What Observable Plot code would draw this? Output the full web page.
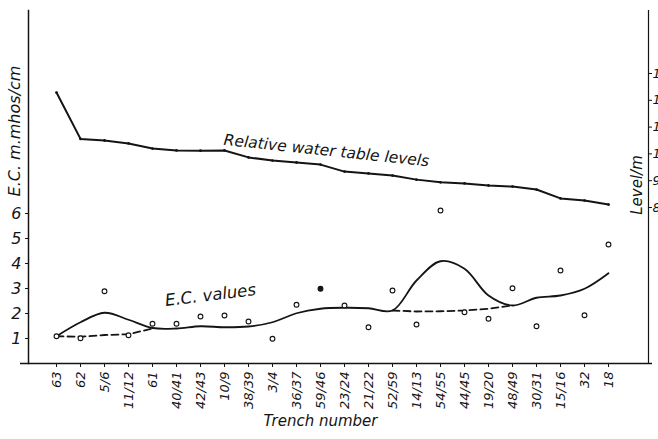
<!DOCTYPE html>
<html>
<head>
<meta charset="utf-8">
<script src="https://cdn.jsdelivr.net/npm/d3@7"></script>
<script src="https://cdn.jsdelivr.net/npm/@observablehq/plot@0.6"></script>
<style>
  html, body { margin: 0; padding: 0; background: #fff; overflow: hidden; }
</style>
</head>
<body>
<div id="chart"></div>
<script>
// Trench numbers along the x axis
const trenches = ["63","62","5/6","11/12","61","40/41","42/43","10/9","38/39","3/4","36/37","59/46",
                  "23/24","21/22","52/59","14/13","54/55","44/45","19/20","48/49","30/31","15/16","32","18"];
// Relative water table level (m), right axis
const waterLevel = [12.29,10.56,10.50,10.39,10.20,10.13,10.12,10.13,9.87,9.75,9.68,9.60,
                    9.34,9.27,9.19,9.04,8.94,8.90,8.82,8.78,8.67,8.34,8.26,8.11];
// Measured E.C. (m.mhos/cm), open circles
const ecMeasured = [1.09,1.01,2.89,1.13,1.59,1.59,1.88,1.92,1.68,0.99,2.35,2.99,
                    2.32,1.45,2.92,1.56,6.12,2.05,1.79,3.01,1.49,3.72,1.93,4.76];
// Smoothed E.C. trend (solid curve)
const ecTrend = [1.09,1.65,2.03,1.75,1.42,1.40,1.49,1.45,1.48,1.65,2.01,2.19,
                 2.23,2.21,2.12,3.32,4.09,3.79,2.72,2.32,2.63,2.72,2.99,3.61];
// Dashed base lines
const dashATrenches = ["63","62","5/6","11/12","61"];
const dashAValues = [1.09,1.07,1.14,1.17,1.40];
const dashBTrenches = ["52/59","14/13","54/55","44/45","19/20","48/49"];
const dashBValues = [2.12,2.08,2.09,2.12,2.19,2.32];
// Axis ticks
const ecTicks = [1,2,3,4,5,6];
const levelTicks = [8,9,10,11,12,13];

// map water level (m) onto the E.C. scale for the secondary axis
const toEC = L => 6.24 + 1.072 * (L - 8);
const fromEC = e => (e - 6.24) / 1.072 + 8;

const water = trenches.map((t, i) => ({t, v: toEC(waterLevel[i])}));
const meas = trenches.map((t, i) => ({t, v: ecMeasured[i], i}));
const trend = trenches.map((t, i) => ({t, v: ecTrend[i]}));
const dashA = dashATrenches.map((t, i) => ({t, v: dashAValues[i]}));
const dashB = dashBTrenches.map((t, i) => ({t, v: dashBValues[i]}));

const ink = "#141414";

const chart = Plot.plot({
  width: 658,
  height: 439,
  marginTop: 10,
  marginBottom: 76,
  marginLeft: 28,
  marginRight: 10,
  x: {type: "point", domain: trenches, range: [44, 620]},
  y: {domain: [0, 14.12]},
  style: {fontFamily: "'DejaVu Sans', sans-serif", fontStyle: "italic", background: "#fff", color: ink},
  marks: [
    Plot.frame({anchor: "left", stroke: ink, strokeWidth: 1.5}),
    Plot.frame({anchor: "right", stroke: ink, strokeWidth: 1.2}),
    Plot.ruleY([0], {stroke: ink, strokeWidth: 1.5, insetLeft: -8, insetRight: -4}),
    Plot.axisX({tickRotate: -90, tickSize: 4, tickPadding: 4, fontSize: 13, label: null}),
    Plot.axisY({ticks: ecTicks, tickSize: 3, tickPadding: 4, fontSize: 16, label: null}),
    Plot.axisY({anchor: "right", ticks: levelTicks.map(toEC), tickFormat: d => Math.round(fromEC(d)),
                tickSize: 3, tickPadding: 1, fontSize: 13, label: null}),
    Plot.line(water, {x: "t", y: "v", stroke: ink, strokeWidth: 2}),
    Plot.dot(water, {x: "t", y: "v", r: 1.4, fill: ink}),
    Plot.line(trend, {x: "t", y: "v", curve: "catmull-rom", stroke: ink, strokeWidth: 1.8}),
    Plot.line(dashA, {x: "t", y: "v", stroke: ink, strokeWidth: 1.8, strokeDasharray: "7,4"}),
    Plot.line(dashB, {x: "t", y: "v", stroke: ink, strokeWidth: 1.8, strokeDasharray: "7,4"}),
    Plot.dot(meas, {x: "t", y: "v", r: 2.4, stroke: ink, strokeWidth: 1.1, fill: d => d.i === 11 ? ink : "#fff"}),
    Plot.text([water[11]], {x: "t", y: "v", text: () => "Relative water table levels", dx: 6, dy: -14,
                            rotate: 6, fontSize: 15.5, fill: ink}),
    Plot.text([trend[6]], {x: "t", y: "v", text: () => "E.C. values", dx: 10, dy: -31,
                           rotate: -7, fontSize: 16.5, fill: ink}),
    Plot.text(["E.C. m.mhos/cm"], {frameAnchor: "left", textAnchor: "middle", text: d => d, dx: -14, dy: -56,
                                   rotate: -90, fontSize: 16, fill: ink}),
    Plot.text(["Level/m"], {frameAnchor: "right", textAnchor: "middle", text: d => d, dx: -11, dy: -2,
                            rotate: -90, fontSize: 15, fill: ink}),
    Plot.text(["Trench number"], {frameAnchor: "bottom", text: d => d, dx: -18, dy: 62, fontSize: 15, fill: ink})
  ]
});
document.getElementById("chart").appendChild(chart);
</script>
</body>
</html>
